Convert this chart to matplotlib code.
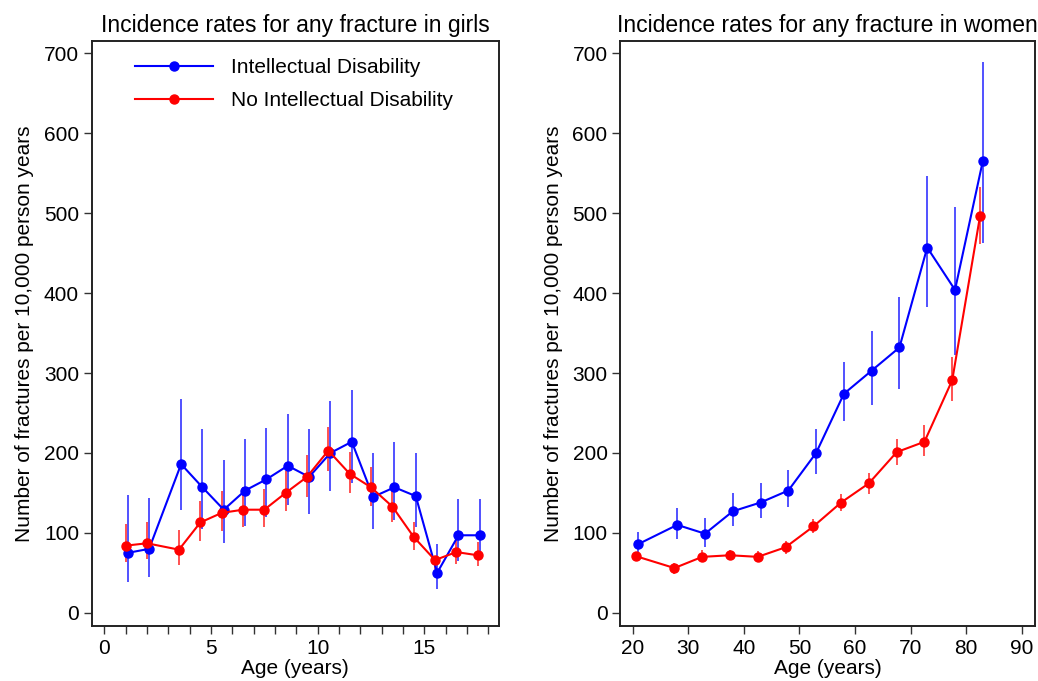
import matplotlib
matplotlib.use("Agg")
import matplotlib.pyplot as plt
import numpy as np

plt.rcParams['font.family'] = ['Liberation Sans', 'DejaVu Sans']

# ---- Girls (left panel) ----
girls_age_noid = [1.0, 2.0, 3.5, 4.5, 5.5, 6.5, 7.5, 8.5, 9.5, 10.5, 11.5, 12.5, 13.5, 14.5, 15.5, 16.5, 17.5]
girls_age_id = [1.1, 2.1, 3.6, 4.6, 5.6, 6.6, 7.6, 8.6, 9.6, 10.6, 11.6, 12.6, 13.6, 14.6, 15.6, 16.6, 17.6]
girls_id = [75, 80, 186, 157, 129, 153, 167, 184, 170, 200, 214, 145, 157, 146, 50, 97, 97]
girls_id_lo = [38, 45, 129, 105, 87, 108, 120, 135, 124, 152, 163, 105, 116, 107, 30, 65, 66]
girls_id_hi = [148, 144, 267, 230, 191, 217, 231, 249, 230, 265, 279, 200, 214, 200, 86, 143, 143]
girls_noid = [84, 87, 79, 113, 125, 129, 129, 150, 170, 203, 174, 157, 133, 95, 66, 76, 72]
girls_noid_lo = [63, 67, 60, 90, 102, 107, 107, 127, 145, 177, 150, 134, 113, 78, 55, 61, 58]
girls_noid_hi = [111, 113, 103, 140, 152, 157, 155, 177, 197, 233, 201, 182, 157, 114, 70, 91, 89]

# ---- Women (right panel) ----
women_age_noid = [20.5, 27.5, 32.5, 37.5, 42.5, 47.5, 52.5, 57.5, 62.5, 67.5, 72.5, 77.5, 82.5]
women_age_id = [21, 28, 33, 38, 43, 48, 53, 58, 63, 68, 73, 78, 83]
women_id = [86, 110, 99, 127, 138, 153, 200, 274, 303, 332, 457, 404, 565]
women_id_lo = [72, 92, 82, 108, 119, 132, 174, 240, 260, 280, 382, 322, 463]
women_id_hi = [101, 131, 119, 150, 162, 179, 230, 314, 352, 395, 546, 508, 689]
women_noid = [71, 56, 70, 72, 70, 82, 108, 138, 162, 201, 214, 291, 496]
women_noid_lo = [66, 49, 63, 66, 63, 74, 100, 127, 149, 185, 196, 265, 461]
women_noid_hi = [76, 62, 78, 78, 77, 90, 117, 149, 175, 217, 235, 320, 533]

labels = ["Intellectual Disability", "No Intellectual Disability"]
titles = ["Incidence rates for any fracture in girls", "Incidence rates for any fracture in women"]
ylabel = "Number of fractures per 10,000 person years"
xlabel = "Age (years)"

BLUE = "#0000ff"
RED = "#ff0000"

fig = plt.figure(figsize=(10.38, 6.81), dpi=100)
axL = fig.add_axes([91.5 / 1038, 55 / 681, (499 - 91.5) / 1038, (626 - 41.3) / 681])
axR = fig.add_axes([620 / 1038, 55 / 681, (1035 - 620) / 1038, (626 - 41.3) / 681])


def draw(ax, xid, yid, lo_id, hi_id, xno, yno, lo_no, hi_no):
    ax.vlines(xid, lo_id, hi_id, color=BLUE, lw=1.2, alpha=0.8, zorder=2)
    ax.vlines(xno, lo_no, hi_no, color=RED, lw=1.2, alpha=0.8, zorder=2)
    ax.plot(xid, yid, color=BLUE, lw=1.5, marker='o', ms=6.5, label=labels[0], zorder=3)
    ax.plot(xno, yno, color=RED, lw=1.5, marker='o', ms=6.5, label=labels[1], zorder=4)


draw(axL, girls_age_id, girls_id, girls_id_lo, girls_id_hi,
     girls_age_noid, girls_noid, girls_noid_lo, girls_noid_hi)
draw(axR, women_age_id, women_id, women_id_lo, women_id_hi,
     women_age_noid, women_noid, women_noid_lo, women_noid_hi)

for ax, title in zip([axL, axR], titles):
    ax.set_ylim(-16.5, 715)
    ax.set_yticks(range(0, 701, 100))
    ax.set_title(title, fontsize=16.5, pad=7)
    ax.set_ylabel(ylabel, fontsize=15, labelpad=7)
    ax.set_xlabel(xlabel, fontsize=15, labelpad=1)
    ax.tick_params(axis='both', which='both', direction='out', length=6, width=1,
                   labelsize=15, color='#333333', pad=3)
    for sp in ax.spines.values():
        sp.set_linewidth(1.4)
        sp.set_color('#222222')

axL.set_xlim(-0.6, 18.5)
axL.set_xticks([0, 5, 10, 15])
axL.set_xticks(range(0, 19), minor=True)

axR.set_xlim(17.7, 92.4)
axR.set_xticks(range(20, 91, 10))

leg = axL.legend(loc='upper left', bbox_to_anchor=(0.066, 1.0), frameon=False,
                 fontsize=15, handlelength=3.75, handletextpad=0.85, labelspacing=0.68,
                 borderpad=0.3)

fig.savefig("out.png", dpi=100)
